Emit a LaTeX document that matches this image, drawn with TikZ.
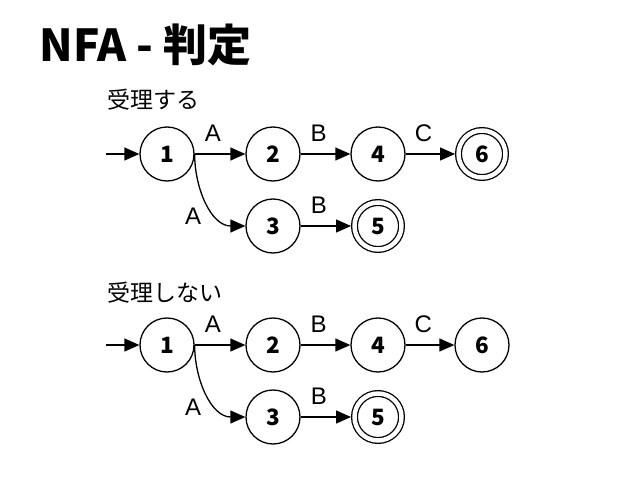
\documentclass[tikz,border=0pt]{standalone}
\usepackage{fontspec}
\setmainfont{Noto Sans CJK JP}
\newfontfamily\lblfont{Liberation Sans}
\usetikzlibrary{arrows.meta}
\tikzset{
  st/.style={circle, draw, line width=1.3pt, minimum size=54pt, inner sep=0pt,
    font=\fontsize{22.5}{22.5}\selectfont\bfseries},
  acc/.style={st, double, double distance=4.45pt, minimum size=47pt, outer sep=3.5pt},
  tr/.style={line width=1.3pt, -{Triangle[length=15pt,width=13pt]}},
  lbl/.style={font=\lblfont\fontsize{24}{24}\selectfont, inner sep=0pt},
  hl/.style={lbl, pos=0.36, yshift=20.5pt},
  captxt/.style={font=\fontsize{23}{23}\selectfont, anchor=west},
}
\begin{document}
\begin{tikzpicture}[x=1pt,y=-1pt]
\useasboundingbox (0,0) rectangle (638,479);
\node[anchor=west, font=\fontsize{44}{44}\selectfont\bfseries] (title) at (36,45) {NFA - 判定};
% top
\node[captxt] (capA) at (104,100) {受理する};
\node[st] (a1) at (167,154) {1};
\node[st] (a2) at (273,154) {2};
\node[st] (a4) at (378,154) {4};
\node[acc] (a6) at (482,154) {6};
\node[st] (a3) at (273,226) {3};
\node[acc] (a5) at (378,226) {5};
\coordinate (ai) at (106,154);
\draw[tr] (ai) -- (a1);
\draw[tr] (a1) -- node[hl] {A} (a2);
\draw[tr] (a2) -- node[hl] {B} (a4);
\draw[tr] (a4) -- node[hl] {C} (a6);
\draw[tr] (a3) -- node[hl] {B} (a5);
\draw[tr] (a1.east) to[out=-90, in=180] node[lbl, pos=0, xshift=-1.5pt, yshift=-62pt] {A} (a3.west);
% bottom
\node[captxt] (capB) at (104,293) {受理しない};
\node[st] (b1) at (167,345) {1};
\node[st] (b2) at (273,345) {2};
\node[st] (b4) at (378,345) {4};
\node[st] (b6) at (482,345) {6};
\node[st] (b3) at (273,417) {3};
\node[acc] (b5) at (378,417) {5};
\coordinate (bi) at (106,345);
\draw[tr] (bi) -- (b1);
\draw[tr] (b1) -- node[hl] {A} (b2);
\draw[tr] (b2) -- node[hl] {B} (b4);
\draw[tr] (b4) -- node[hl] {C} (b6);
\draw[tr] (b3) -- node[hl] {B} (b5);
\draw[tr] (b1.east) to[out=-90, in=180] node[lbl, pos=0, xshift=-1.5pt, yshift=-62pt] {A} (b3.west);
\end{tikzpicture}
\end{document}
